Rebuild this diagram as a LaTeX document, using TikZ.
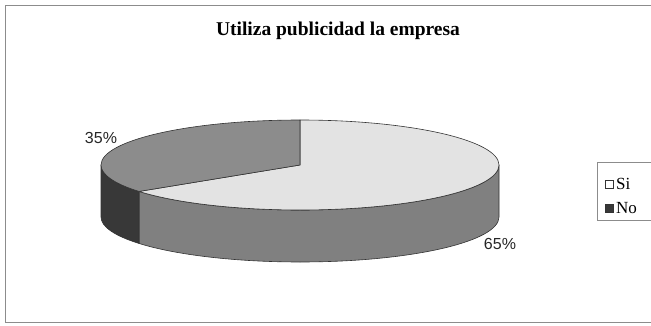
\documentclass[tikz,border=0pt]{standalone}
\usepackage{fontspec}
\setmainfont{Liberation Serif}
\newfontfamily\arialfont{Liberation Sans}
\usetikzlibrary{positioning}
\definecolor{sitop}{rgb}{0.89, 0.89, 0.89}
\definecolor{siside}{rgb}{0.50, 0.50, 0.50}
\definecolor{notop}{rgb}{0.55, 0.55, 0.55}
\definecolor{noside}{rgb}{0.22, 0.22, 0.22}
\definecolor{framegray}{rgb}{0.55, 0.55, 0.55}

\begin{document}
\begin{tikzpicture}[x=1pt, y=1pt]
    \tikzstyle{slice_style} = [draw=black!80, line width=0.6pt, line join=round]
    \tikzstyle{pct_style} = [font=\arialfont\fontsize{16}{16}\selectfont, text=black!85]
    \tikzstyle{key_style} = [draw=black!80, line width=0.5pt, minimum size=7.5pt, inner sep=0pt]
    \tikzstyle{key_text} = [font=\fontsize{17}{17}\selectfont, inner sep=0pt, anchor=base west]

    \def\cx{300}
    \def\cy{160}
    \def\rx{199}
    \def\ry{45}
    \def\depth{52}
    \def\cut{216}

    \useasboundingbox (0,0) rectangle (651,325);
    \clip (0,0) rectangle (651,325);

    % chart frame
    \draw[framegray, line width=1pt] (5,3) rectangle (665,320);
    \node[font=\bfseries\fontsize{19.5}{19.5}\selectfont, anchor=base] (title) at (338,290) {Utiliza publicidad la empresa};

    \coordinate (C) at (\cx,\cy);
    \coordinate (T) at (\cx,\cy+\ry);

    \begin{scope}
      % sides
      \filldraw[slice_style, fill=siside] (\cut:\rx pt and \ry pt) ++(\cx,\cy)
        arc[start angle=\cut, end angle=360, x radius=\rx, y radius=\ry]
        -- ++(0,-\depth)
        arc[start angle=360, end angle=\cut, x radius=\rx, y radius=\ry] -- cycle;
      \filldraw[slice_style, fill=noside] (180:\rx pt and \ry pt) ++(\cx,\cy)
        arc[start angle=180, end angle=\cut, x radius=\rx, y radius=\ry]
        -- ++(0,-\depth)
        arc[start angle=\cut, end angle=180, x radius=\rx, y radius=\ry] -- cycle;
      % top faces
      \filldraw[slice_style, fill=sitop] (C) -- (T)
        arc[start angle=90, end angle=\cut-360, x radius=\rx, y radius=\ry] -- cycle;
      \filldraw[slice_style, fill=notop] (C) -- (T)
        arc[start angle=90, end angle=\cut, x radius=\rx, y radius=\ry] -- cycle;
    \end{scope}

    \node[pct_style] (lblNo) at (101,187) {35\%};
    \node[pct_style] (lblSi) at (500,81) {65\%};

    % legend
    \draw[framegray, line width=0.8pt] (597,105) rectangle (665,163);
    \node[key_style, fill=white] (keySi) at (609,141) {};
    \node[key_style, fill=noside] (keyNo) at (609,117) {};
    \node[key_text] (txtSi) at (616,136) {Si};
    \node[key_text] (txtNo) at (616,112) {No};
\end{tikzpicture}
\end{document}
